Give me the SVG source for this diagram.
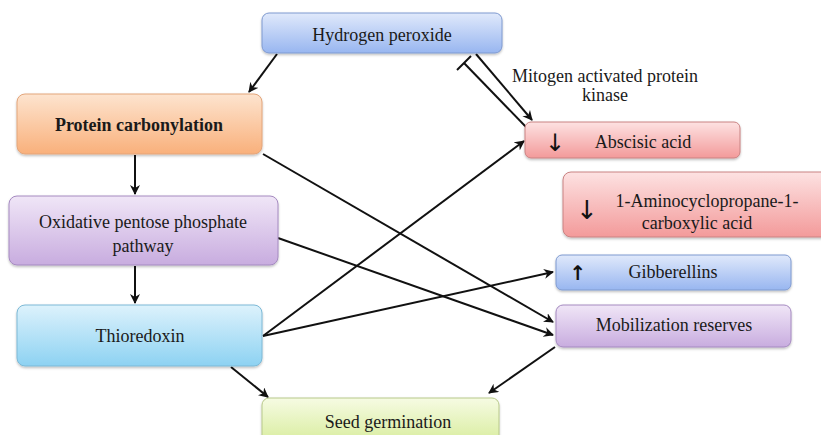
<svg xmlns="http://www.w3.org/2000/svg" width="821" height="435" viewBox="0 0 821 435">
<style>
.t{font-family:"Liberation Serif","Times New Roman",serif;font-size:18px;fill:#1a1a1a;text-anchor:middle}
.ar{font-family:"DejaVu Sans",sans-serif;fill:#111;text-anchor:middle}
.b{stroke-width:1;filter:url(#sh)}
.c{stroke:#111;stroke-width:2;fill:none}
.a{marker-end:url(#ah)}
</style>
<defs>
<filter id="sh" x="-5%" y="-10%" width="110%" height="130%"><feDropShadow dx="0" dy="1.5" stdDeviation="1.2" flood-color="#000" flood-opacity="0.25"/></filter>
<marker id="ah" viewBox="0 0 10 10" refX="9" refY="5" markerWidth="5" markerHeight="5" orient="auto" markerUnits="strokeWidth"><path d="M0,0 L10,5 L0,10 L3,5 z" fill="#111"/></marker>
<linearGradient id="gBlue" x1="0" y1="0" x2="0" y2="1"><stop offset="0" stop-color="#e0e9fb"/><stop offset="1" stop-color="#98b6f0"/></linearGradient>
<linearGradient id="gOr" x1="0" y1="0" x2="0" y2="1"><stop offset="0" stop-color="#fde4cf"/><stop offset="1" stop-color="#f9b07b"/></linearGradient>
<linearGradient id="gPu" x1="0" y1="0" x2="0" y2="1"><stop offset="0" stop-color="#f0e6f7"/><stop offset="1" stop-color="#c8acdf"/></linearGradient>
<linearGradient id="gCy" x1="0" y1="0" x2="0" y2="1"><stop offset="0" stop-color="#ddf2fc"/><stop offset="1" stop-color="#8dd2f2"/></linearGradient>
<linearGradient id="gGr" x1="0" y1="0" x2="0" y2="1"><stop offset="0" stop-color="#f6fbe3"/><stop offset="1" stop-color="#d9ed9f"/></linearGradient>
<linearGradient id="gRd" x1="0" y1="0" x2="0" y2="1"><stop offset="0" stop-color="#fde2e2"/><stop offset="1" stop-color="#f39a9a"/></linearGradient>
</defs>

<g id="connectors">
<line class="c a" x1="277" y1="54" x2="249" y2="92"/>
<line class="c a" x1="476" y1="54" x2="532" y2="120"/>
<line class="c" x1="527" y1="128" x2="464" y2="63"/>
<line class="c" x1="457" y1="70" x2="471" y2="56"/>
<line class="c a" x1="135" y1="155" x2="135" y2="194"/>
<line class="c a" x1="135" y1="266" x2="135" y2="303"/>
<line class="c a" x1="263" y1="154" x2="553" y2="322"/>
<line class="c a" x1="278" y1="238" x2="553" y2="335"/>
<line class="c a" x1="263" y1="336" x2="524" y2="141"/>
<line class="c a" x1="263" y1="336" x2="553" y2="272"/>
<line class="c a" x1="231" y1="367" x2="268" y2="397"/>
<line class="c a" x1="555" y1="347" x2="489" y2="393"/>
</g>

<g id="hydrogen-peroxide">
<rect class="b" x="262" y="13" width="240" height="40" rx="7" fill="url(#gBlue)" stroke="#7f9ad0"/>
<text class="t" x="382" y="41">Hydrogen peroxide</text>
</g>
<g id="protein-carbonylation">
<rect class="b" x="17" y="94" width="245" height="60" rx="8" fill="url(#gOr)" stroke="#e3a57a"/>
<text class="t" x="139" y="131" font-weight="bold" font-size="16">Protein carbonylation</text>
</g>
<g id="oxidative-pentose">
<rect class="b" x="9" y="196" width="269" height="69" rx="8" fill="url(#gPu)" stroke="#a58ac0"/>
<text class="t" x="143" y="228">Oxidative pentose phosphate</text>
<text class="t" x="143" y="252">pathway</text>
</g>
<g id="thioredoxin">
<rect class="b" x="17" y="305" width="245" height="61" rx="8" fill="url(#gCy)" stroke="#7cb9d6"/>
<text class="t" x="140" y="342">Thioredoxin</text>
</g>
<g id="seed-germination">
<rect class="b" x="262" y="398" width="237" height="44" rx="7" fill="url(#gGr)" stroke="#b8c98a"/>
<text class="t" x="388" y="428">Seed germination</text>
</g>
<g id="mapk-label">
<text class="t" x="605" y="82" font-size="14">Mitogen activated protein</text>
<text class="t" x="605" y="101" font-size="14">kinase</text>
</g>
<g id="abscisic-acid">
<rect class="b" x="525" y="122" width="215" height="36" rx="6" fill="url(#gRd)" stroke="#c98282"/>
<text class="ar" x="555" y="151" font-size="24">↓</text>
<text class="t" x="643" y="148">Abscisic acid</text>
</g>
<g id="acc">
<rect class="b" x="563" y="172" width="266" height="65" rx="8" fill="url(#gRd)" stroke="#c98282"/>
<text class="ar" x="587" y="219" font-size="26">↓</text>
<text class="t" x="707" y="207" font-size="17.5">1-Aminocyclopropane-1-</text>
<text class="t" x="697" y="229" font-size="17.5">carboxylic acid</text>
</g>
<g id="gibberellins">
<rect class="b" x="556" y="255" width="235" height="35" rx="6" fill="url(#gBlue)" stroke="#7f9ad0"/>
<text class="ar" x="578" y="280" font-size="20" font-weight="bold">↑</text>
<text class="t" x="673" y="278" font-size="15">Gibberellins</text>
</g>
<g id="mobilization-reserves">
<rect class="b" x="556" y="305" width="235" height="42" rx="7" fill="url(#gPu)" stroke="#a58ac0"/>
<text class="t" x="674" y="331" font-size="15.5">Mobilization reserves</text>
</g>
</svg>
